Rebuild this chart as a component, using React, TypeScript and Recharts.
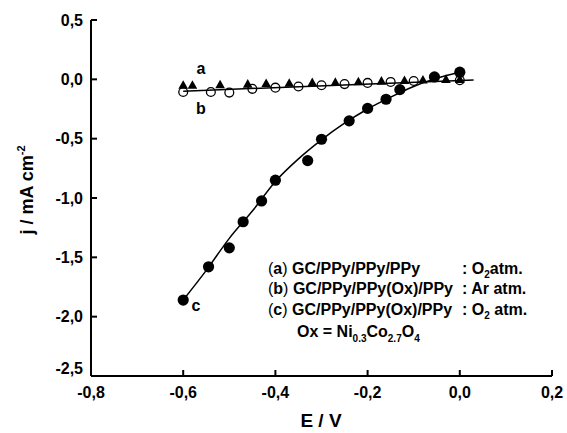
import React from "react";
import { ComposedChart, Line, Scatter, XAxis, YAxis, Customized } from "recharts";

// Series a: GC/PPy/PPy/PPy, O2 (filled triangles)
const aE = [-0.6, -0.58, -0.52, -0.46, -0.42, -0.37, -0.32, -0.27, -0.22, -0.17, -0.12, -0.08, -0.03, 0.0];
const aJ = [-0.05, -0.05, -0.045, -0.04, -0.035, -0.033, -0.027, -0.025, -0.02, -0.015, -0.01, -0.005, 0.0, 0.0];

// Series b: GC/PPy/PPy(Ox)/PPy, Ar (open circles)
const bE = [-0.6, -0.54, -0.5, -0.45, -0.4, -0.35, -0.3, -0.25, -0.2, -0.15, -0.1, 0.0];
const bJ = [-0.107, -0.107, -0.112, -0.08, -0.07, -0.06, -0.05, -0.04, -0.03, -0.022, -0.014, -0.008];

// Series c: GC/PPy/PPy(Ox)/PPy, O2 (filled circles)
const cE = [-0.6, -0.545, -0.5, -0.47, -0.43, -0.4, -0.33, -0.3, -0.24, -0.2, -0.16, -0.13, -0.055, 0.0];
const cJ = [-1.86, -1.58, -1.42, -1.2, -1.025, -0.85, -0.685, -0.505, -0.35, -0.245, -0.168, -0.087, 0.02, 0.06];

// fitted curves as drawn
const fitCE = [-0.6, -0.55, -0.5, -0.45, -0.4, -0.35, -0.3, -0.25, -0.2, -0.15, -0.1, -0.05, 0.0];
const fitCJ = [-1.86, -1.61, -1.34, -1.11, -0.86, -0.67, -0.51, -0.37, -0.25, -0.15, -0.06, 0.01, 0.06];
const fitABE = [-0.6, 0.03];
const fitABJ = [-0.1, -0.005];

const xTicks = [-0.8, -0.6, -0.4, -0.2, 0.0, 0.2];
const yTicks = [-2.5, -2.0, -1.5, -1.0, -0.5, 0.0, 0.5];

const zip = (e: number[], j: number[]) => e.map((v, i) => ({ E: v, j: j[i] }));
const aData = zip(aE, aJ);
const bData = zip(bE, bJ);
const cData = zip(cE, cJ);
const fitC = zip(fitCE, fitCJ);
const fitAB = zip(fitABE, fitABJ);

const FONT = "'Liberation Sans', Arial, sans-serif";
const fmt = (v: number) => v.toFixed(1).replace(".", ",");

const XTick = (p: any) => (
  <text x={p.x} y={p.y} textAnchor="middle" fontFamily={FONT} fontWeight="bold" fontSize={16} fill="#000">
    {fmt(p.payload.value)}
  </text>
);
const YTick = (p: any) => (
  <text
    x={p.x}
    y={p.y + (p.payload.value === -2.5 ? -8 : 0)}
    dy="0.36em"
    textAnchor="end"
    fontFamily={FONT}
    fontWeight="bold"
    fontSize={16}
    fill="#000"
  >
    {fmt(p.payload.value)}
  </text>
);

const Tri = (p: any) => (
  <polygon
    points={`${p.cx},${p.cy - 5} ${p.cx - 4.8},${p.cy + 3.6} ${p.cx + 4.8},${p.cy + 3.6}`}
    fill="#000"
  />
);
const OpenC = (p: any) => <circle cx={p.cx} cy={p.cy} r={4.4} fill="none" stroke="#000" strokeWidth={1.3} />;
const FillC = (p: any) => <circle cx={p.cx} cy={p.cy} r={5.6} fill="#000" />;

const Texts = () => (
  <g fontFamily={FONT} fontWeight="bold" fill="#000">
    <text x={201} y={74} fontSize={16} textAnchor="middle">a</text>
    <text x={201} y={114} fontSize={16} textAnchor="middle">b</text>
    <text x={196} y={311} fontSize={16} textAnchor="middle">c</text>

    <text x={268} y={273.5} fontSize={16}>
      <tspan fontWeight="normal">(</tspan>a<tspan fontWeight="normal">)</tspan> GC/PPy/PPy/PPy
    </text>
    <text x={462} y={273.5} fontSize={16}>
      : O<tspan fontSize={10} dy={4}>2</tspan><tspan dy={-4}>atm.</tspan>
    </text>

    <text x={268} y={294} fontSize={16}>
      <tspan fontWeight="normal">(</tspan>b<tspan fontWeight="normal">)</tspan> GC/PPy/PPy(Ox)/PPy
    </text>
    <text x={462} y={294} fontSize={16}>: Ar atm.</text>

    <text x={268} y={314.5} fontSize={16}>
      <tspan fontWeight="normal">(</tspan>c<tspan fontWeight="normal">)</tspan> GC/PPy/PPy(Ox)/PPy
    </text>
    <text x={462} y={314.5} fontSize={16}>
      : O<tspan fontSize={10} dy={4}>2</tspan><tspan dy={-4}> atm.</tspan>
    </text>

    <text x={297} y={336.5} fontSize={16}>
      Ox = Ni<tspan fontSize={10} dy={5}>0.3</tspan>
      <tspan dy={-5}>Co</tspan>
      <tspan fontSize={10} dy={5}>2.7</tspan>
      <tspan dy={-5}>O</tspan>
      <tspan fontSize={10} dy={5}>4</tspan>
    </text>

    <text x={321} y={427} fontSize={19} textAnchor="middle">E / V</text>
    <text x={33} y={190} fontSize={18} textAnchor="middle" transform="rotate(-90 33 190)">
      j / mA cm<tspan fontSize={11} dy={-8}>-2</tspan>
    </text>
  </g>
);

export default function App() {
  return (
    <div style={{ position: "absolute", left: 0, top: 0, width: 567, height: 433, background: "#fff" }}>
      <ComposedChart width={567} height={433} margin={{ top: 20, right: 15, bottom: 17, left: 31 }}>
        <XAxis
          xAxisId="b"
          dataKey="E"
          type="number"
          domain={[-0.8, 0.2]}
          ticks={xTicks}
          allowDataOverflow
          height={40}
          axisLine={{ stroke: "#000", strokeWidth: 2 }}
          tickLine={{ stroke: "#000", strokeWidth: 2 }}
          tickSize={-6}
          tickMargin={27.5}
          tick={<XTick />}
          interval={0}
        />
        <XAxis
          xAxisId="t"
          orientation="top"
          type="number"
          domain={[-0.8, 0.2]}
          ticks={xTicks}
          allowDataOverflow
          height={0}
          axisLine={{ stroke: "#000", strokeWidth: 2 }}
          tickLine={{ stroke: "#000", strokeWidth: 2 }}
          tickSize={-6}
          tickFormatter={() => ""}
          interval={0}
        />
        <YAxis
          yAxisId="l"
          dataKey="j"
          type="number"
          domain={[-2.5, 0.5]}
          ticks={yTicks}
          allowDataOverflow
          width={60}
          axisLine={{ stroke: "#000", strokeWidth: 2 }}
          tickLine={{ stroke: "#000", strokeWidth: 2 }}
          tickSize={-6}
          tickMargin={14}
          tick={<YTick />}
          interval={0}
        />
        <YAxis
          yAxisId="r"
          orientation="right"
          type="number"
          domain={[-2.5, 0.5]}
          ticks={yTicks}
          allowDataOverflow
          width={0}
          axisLine={{ stroke: "#000", strokeWidth: 2 }}
          tickLine={{ stroke: "#000", strokeWidth: 2 }}
          tickSize={-6}
          tickFormatter={() => ""}
          interval={0}
        />
        <Line xAxisId="b" yAxisId="l" data={fitAB} dataKey="j" type="linear" stroke="#000" strokeWidth={1.5} dot={false} activeDot={false} isAnimationActive={false} />
        <Line xAxisId="b" yAxisId="l" data={fitC} dataKey="j" type="monotone" stroke="#000" strokeWidth={1.5} dot={false} activeDot={false} isAnimationActive={false} />
        <Scatter xAxisId="b" yAxisId="l" data={aData} dataKey="j" shape={<Tri />} isAnimationActive={false} />
        <Scatter xAxisId="b" yAxisId="l" data={bData} dataKey="j" shape={<OpenC />} isAnimationActive={false} />
        <Scatter xAxisId="b" yAxisId="l" data={cData} dataKey="j" shape={<FillC />} isAnimationActive={false} />
        <Customized component={<Texts />} />
      </ComposedChart>
    </div>
  );
}
